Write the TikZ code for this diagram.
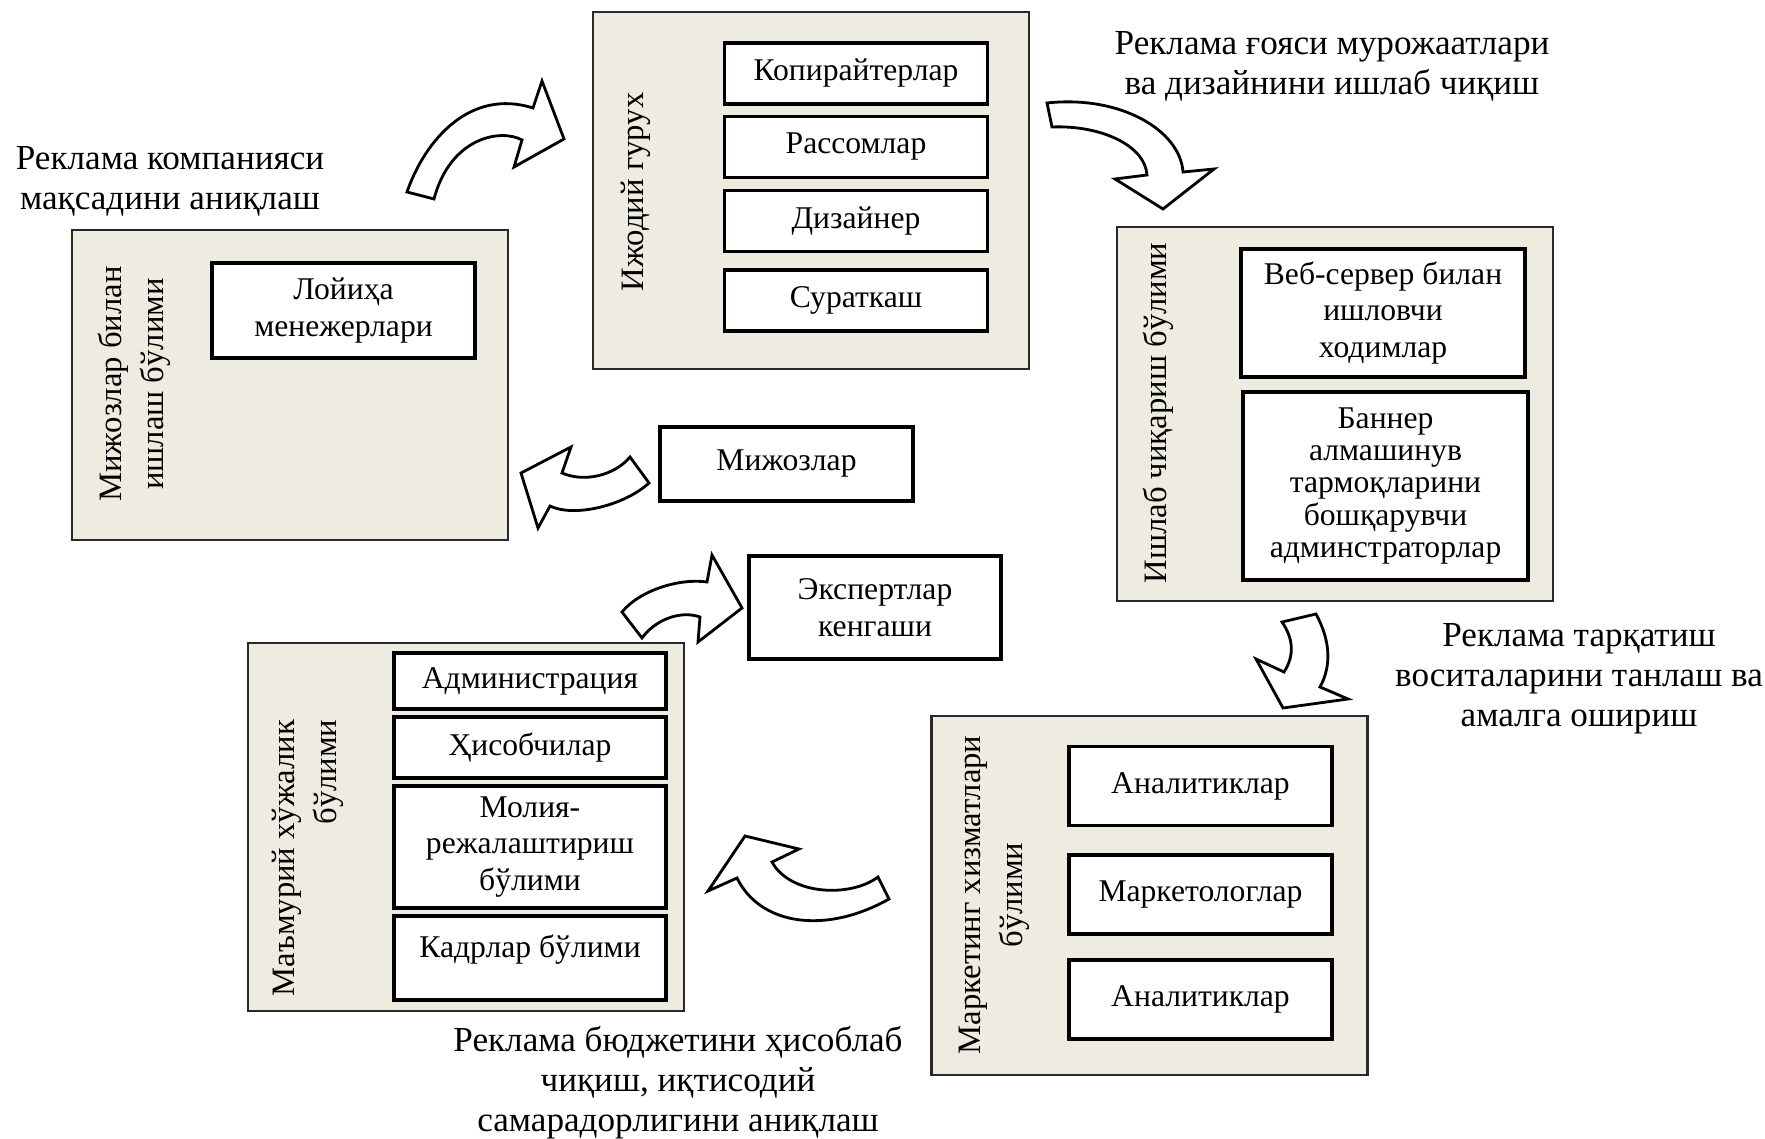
\documentclass[tikz,border=0pt]{standalone}
\usepackage{fontspec}
\setmainfont{Liberation Serif}
\usepackage{tikz}
\definecolor{panelbeige}{RGB}{238,236,225}
\definecolor{edgegrey}{RGB}{40,40,40}
\tikzset{
  base/.style={align=center, inner sep=2pt, text=black},
  panel/.style={rectangle, draw=edgegrey, fill=panelbeige, line width=0.7pt, minimum width=4.36cm},
  unit/.style={base, rectangle, draw=black, fill=white, line width=1pt, font=\fontsize{9}{10.4}\selectfont},
  side/.style={base, rotate=90, font=\fontsize{9.3}{12}\selectfont},
  caption/.style={base, font=\fontsize{10}{11.4}\selectfont},
  bentarr/.style={draw=black, fill=white, line width=0.8pt, line join=miter},
}

\begin{document}
\begin{tikzpicture}
  \useasboundingbox (0,0) rectangle (17.65,-11.38);

  \node[panel, minimum height=3.10cm] (clientdept) at (2.90,-3.85) {};
  \node[panel, minimum height=3.57cm] (creative) at (8.11,-1.905) {};
  \node[panel, minimum height=3.74cm] (production) at (13.35,-4.14) {};
  \node[panel, minimum height=3.68cm] (admin) at (4.66,-8.27) {};
  \node[panel, minimum height=3.59cm] (marketing) at (11.495,-8.955) {};

  \node[side] (clientdepttitle) at (1.34,-3.84) {Мижозлар билан\\ишлаш бўлими};
  \node[side] (creativetitle) at (6.36,-1.92) {Ижодий гурух};
  \node[side] (productiontitle) at (11.58,-4.13) {Ишлаб чиқариш бўлими};
  \node[side, align=right] (admintitle) at (3.08,-8.58) {Маъмурий хўжалик\\бўлими\hspace{1.5mm}};
  \node[side] (marketingtitle) at (9.94,-8.95) {Маркетинг хизматлари\\бўлими};

  \node[unit, minimum width=2.63cm, minimum height=0.95cm] (managers) at (3.435,-3.105) {Лойиҳа\\менежерлари};
  \foreach \n/\y/\t in {copywriters/0.735/Копирайтерлар, artists/1.47/Рассомлар, designer/2.21/Дизайнер, photographer/3.005/Сураткаш}{
    \node[unit, minimum width=2.63cm, minimum height=0.61cm] (\n) at (8.56,-\y) {\t};
  }
  \node[unit, minimum width=2.84cm, minimum height=1.28cm] (webstaff) at (13.83,-3.13) {Веб-сервер билан\\ишловчи\\ходимлар};
  \node[unit, minimum width=2.85cm, minimum height=1.88cm, font=\fontsize{9}{9.2}\selectfont] (banneradmins) at (13.855,-4.86) {Баннер\\алмашинув\\тармоқларини\\бошқарувчи\\админстраторлар};
  \node[unit, minimum width=2.53cm, minimum height=0.74cm] (clients) at (7.865,-4.64) {Мижозлар};
  \node[unit, minimum width=2.52cm, minimum height=1.03cm] (experts) at (8.75,-6.075) {Экспертлар\\кенгаши};
  \node[unit, minimum width=2.72cm, minimum height=0.56cm] (management) at (5.30,-6.81) {Администрация};
  \node[unit, minimum width=2.72cm, minimum height=0.61cm] (accountants) at (5.30,-7.475) {Ҳисобчилар};
  \node[unit, minimum width=2.72cm, minimum height=1.22cm] (finance) at (5.30,-8.47) {Молия-\\режалаштириш\\бўлими};
  \node[unit, minimum width=2.72cm, minimum height=0.84cm, text depth=0.24cm] (personnel) at (5.30,-9.58) {Кадрлар бўлими};
  \foreach \n/\y/\t in {analysts/7.86/Аналитиклар, marketers/8.945/Маркетологлар, analyststwo/9.995/Аналитиклар}{
    \node[unit, minimum width=2.63cm, minimum height=0.79cm] (\n) at (12.005,-\y) {\t};
  }

  \node[caption] (goal) at (1.70,-1.81) {Реклама компанияси\\мақсадини аниқлаш};
  \node[caption] (idea) at (13.32,-0.66) {Реклама ғояси мурожаатлари\\ва дизайнини ишлаб чиқиш};
  \node[caption] (spread) at (15.79,-6.79) {Реклама тарқатиш\\воситаларини танлаш ва\\амалга ошириш};
  \node[caption] (budget) at (6.78,-10.83) {Реклама бюджетини ҳисоблаб\\чиқиш, иқтисодий\\самарадорлигини аниқлаш};

  \draw[bentarr] (4.07,-1.92) .. controls (4.25,-1.40) and (4.70,-0.88) .. (5.33,-1.08) -- (5.42,-0.81) -- (5.64,-1.39) -- (5.14,-1.67) -- (5.22,-1.40) .. controls (5.00,-1.28) and (4.50,-1.38) .. (4.34,-1.99) -- cycle;
  \draw[bentarr] (10.47,-1.03) .. controls (11.20,-0.95) and (11.80,-1.30) .. (11.83,-1.72) -- (12.14,-1.69) -- (11.63,-2.09) -- (11.15,-1.79) -- (11.47,-1.75) .. controls (11.45,-1.45) and (11.00,-1.25) .. (10.52,-1.27) -- cycle;
  \draw[bentarr] (6.49,-4.83) .. controls (6.25,-5.05) and (5.75,-5.18) .. (5.50,-5.06) -- (5.38,-5.28) -- (5.21,-4.73) -- (5.71,-4.47) -- (5.62,-4.73) .. controls (5.85,-4.83) and (6.15,-4.75) .. (6.30,-4.57) -- cycle;
  \draw[bentarr] (6.22,-6.12) .. controls (6.40,-5.90) and (6.80,-5.78) .. (7.07,-5.82) -- (7.12,-5.55) -- (7.42,-6.08) -- (6.98,-6.42) -- (7.00,-6.17) .. controls (6.80,-6.10) and (6.55,-6.20) .. (6.42,-6.38) -- cycle;
  \draw[bentarr] (13.16,-6.14) .. controls (13.30,-6.40) and (13.32,-6.65) .. (13.20,-6.87) -- (13.48,-6.99) -- (12.83,-7.08) -- (12.56,-6.59) -- (12.84,-6.72) .. controls (12.95,-6.55) and (12.93,-6.38) .. (12.82,-6.22) -- cycle;
  \draw[bentarr] (8.89,-8.99) .. controls (8.25,-9.35) and (7.60,-9.25) .. (7.37,-8.78) -- (7.08,-8.91) -- (7.45,-8.36) -- (7.99,-8.49) -- (7.72,-8.62) .. controls (7.90,-8.95) and (8.50,-8.98) .. (8.78,-8.77) -- cycle;
\end{tikzpicture}
\end{document}
